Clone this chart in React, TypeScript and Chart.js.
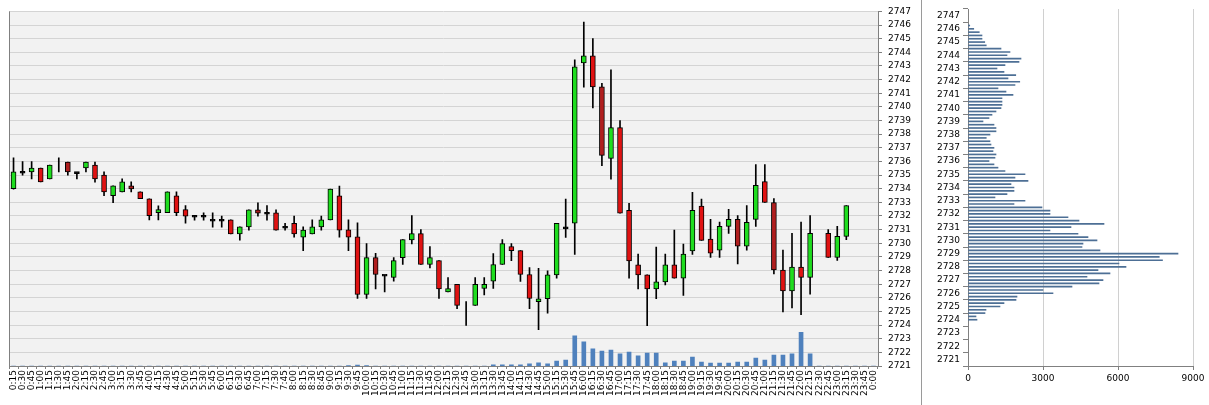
import React, { useEffect, useRef } from 'react';
import { Chart, registerables } from 'chart.js';
Chart.register(...registerables);

const timeLabels = [
  '0:15','0:30','0:45','1:00','1:15','1:30','1:45','2:00','2:15','2:30','2:45','3:00',
  '3:15','3:30','3:45','4:00','4:15','4:30','4:45','5:00','5:15','5:30','5:45','6:00',
  '6:15','6:30','6:45','7:00','7:15','7:30','7:45','8:00','8:15','8:30','8:45','9:00',
  '9:15','9:30','9:45','10:00','10:15','10:30','10:45','11:00','11:15','11:30','11:45','12:00',
  '12:15','12:30','12:45','13:00','13:15','13:30','13:45','14:00','14:15','14:30','14:45','15:00',
  '15:15','15:30','15:45','16:00','16:15','16:30','16:45','17:00','17:15','17:30','17:45','18:00',
  '18:15','18:30','18:45','19:00','19:15','19:30','19:45','20:00','20:15','20:30','20:45','21:00',
  '21:15','21:30','21:45','22:00','22:15','22:30','22:45','23:00','23:15','23:30','23:45','0:00',
];

const openPrices = [
  2734.0, 2735.2, 2735.23, 2735.52, 2734.72, null, 2735.96, 2735.18, 2735.52, 2735.74, 2735.0, 2733.48,
  2733.77, 2734.21, 2733.77, 2733.26, 2732.24, 2732.24, 2733.48, 2732.47, 2731.98, 2731.98, 2731.69, 2731.69,
  2731.72, 2730.69, 2731.2, 2732.45, 2732.2, 2732.23, 2731.18, 2731.47, 2730.45, 2730.69, 2731.2, 2731.72,
  2733.47, 2730.98, 2730.47, 2726.24, 2728.95, 2727.66, 2727.49, 2728.95, 2730.24, 2730.71, 2728.44, 2728.73,
  2726.44, 2726.98, null, 2725.44, 2726.68, 2727.22, 2728.44, 2729.76, 2729.46, 2727.71, 2725.71, 2725.93,
  2727.68, 2731.13, 2731.47, 2743.23, 2743.74, 2741.47, 2736.22, 2738.48, 2732.42, 2728.41, 2727.68, 2726.66,
  2727.17, 2728.41, 2727.44, 2729.43, 2732.72, 2730.3, 2729.5, 2731.24, 2731.75, 2729.79, 2731.75, 2734.52,
  2732.99, 2728.04, 2726.51, 2728.26, 2727.5, null, 2730.73, 2728.96, 2730.51, null, null, null,
];

const highPrices = [
  2736.27, 2735.98, 2735.98, 2735.52, 2735.74, 2736.27, 2735.96, 2735.18, 2735.96, 2735.96, 2735.23, 2734.21,
  2734.72, 2734.5, 2733.77, 2733.26, 2732.75, 2733.77, 2733.77, 2732.76, 2731.98, 2732.23, 2732.23, 2732.0,
  2731.72, 2731.2, 2732.45, 2732.96, 2732.76, 2732.45, 2731.47, 2732.0, 2731.2, 2731.72, 2732.0, 2733.98,
  2734.2, 2731.72, 2731.49, 2729.98, 2729.27, 2727.66, 2728.95, 2730.27, 2732.02, 2731.0, 2729.76, 2728.73,
  2727.49, 2726.98, 2725.73, 2727.49, 2727.49, 2729.24, 2730.27, 2729.98, 2729.46, 2728.22, 2728.17, 2727.97,
  2731.47, 2733.23, 2743.45, 2746.22, 2745.0, 2741.72, 2742.72, 2738.99, 2732.93, 2729.21, 2727.68, 2729.72,
  2729.21, 2730.96, 2729.94, 2733.74, 2733.23, 2731.75, 2731.56, 2732.48, 2732.02, 2732.77, 2735.76, 2735.76,
  2733.28, 2729.5, 2730.73, 2731.56, 2732.02, null, 2731.0, 2731.24, 2732.77, null, null, null,
];

const lowPrices = [
  2733.97, 2735.0, 2734.72, 2734.5, 2734.72, 2735.23, 2734.99, 2734.72, 2735.23, 2734.48, 2733.48, 2732.97,
  2733.77, 2733.77, 2733.26, 2731.71, 2731.71, 2732.24, 2732.02, 2731.47, 2731.69, 2731.69, 2731.18, 2731.18,
  2730.69, 2730.23, 2730.96, 2731.98, 2731.69, 2730.96, 2730.96, 2730.45, 2729.45, 2730.69, 2730.96, 2731.72,
  2730.45, 2729.45, 2725.95, 2725.95, 2726.66, 2726.44, 2727.22, 2728.44, 2729.95, 2728.44, 2728.2, 2725.95,
  2726.44, 2725.2, 2723.98, 2725.44, 2726.22, 2726.68, 2728.44, 2728.73, 2727.2, 2725.2, 2723.66, 2724.88,
  2727.44, 2730.43, 2729.19, 2741.45, 2739.92, 2735.68, 2734.69, 2732.2, 2727.44, 2726.66, 2723.96, 2725.93,
  2726.95, 2727.44, 2726.17, 2729.19, 2730.21, 2728.96, 2728.96, 2730.73, 2728.48, 2729.5, 2731.24, 2732.99,
  2727.75, 2724.96, 2725.25, 2724.76, 2726.27, null, 2728.96, 2728.74, 2730.27, null, null, null,
];

const closePrices = [
  2735.23, 2735.2, 2735.52, 2734.5, 2735.74, null, 2735.23, 2735.18, 2735.96, 2734.72, 2733.77, 2734.21,
  2734.5, 2733.99, 2733.26, 2732.02, 2732.46, 2733.77, 2732.24, 2731.98, 2731.98, 2731.98, 2731.69, 2731.69,
  2730.69, 2731.2, 2732.45, 2732.2, 2732.2, 2730.96, 2731.18, 2730.69, 2730.96, 2731.2, 2731.72, 2733.98,
  2730.96, 2730.45, 2726.24, 2728.95, 2727.71, 2727.66, 2728.73, 2730.27, 2730.71, 2728.44, 2728.95, 2726.66,
  2726.68, 2725.44, null, 2726.98, 2726.98, 2728.44, 2729.98, 2729.46, 2727.71, 2725.95, 2725.93, 2727.68,
  2731.47, 2731.13, 2742.93, 2743.74, 2741.47, 2736.44, 2738.48, 2732.2, 2728.7, 2727.68, 2726.66, 2727.17,
  2728.41, 2727.44, 2729.21, 2732.42, 2730.21, 2729.28, 2731.24, 2731.75, 2729.79, 2731.53, 2734.25, 2732.99,
  2728.04, 2726.51, 2728.26, 2727.5, 2730.73, null, 2728.96, 2730.51, 2732.77, null, null, null,
];

const volumes = [
  0, 0, 0, 0, 0, 0, 0, 0, 0, 0, 0, 0,
  0, 0, 0, 0, 0, 0, 0, 0, 0, 0, 0, 0,
  0, 0, 0, 0, 0, 0, 0, 0, 0, 0, 0, 0,
  0, 30, 100, 50, 0, 0, 0, 0, 0, 0, 0, 0,
  0, 0, 0, 0, 0, 130, 130, 130, 130, 230, 330, 230,
  500, 600, 3030, 2430, 1730, 1500, 1600, 1230, 1400, 1030, 1300, 1300,
  330, 500, 500, 900, 400, 300, 300, 300, 400, 400, 800, 600,
  1100, 1100, 1230, 3400, 1230, 0, 0, 0, 0, 0, 0, 0,
];

// candles drawn in a darker red in the reference
const darkCandles = [6, 13, 27, 40, 65, 80, 84];

const profileLevels = [
  2746.25, 2746.0, 2745.75, 2745.5, 2745.25, 2745.0, 2744.75, 2744.5, 2744.25, 2744.0,
  2743.75, 2743.5, 2743.25, 2743.0, 2742.75, 2742.5, 2742.25, 2742.0, 2741.75, 2741.5,
  2741.25, 2741.0, 2740.75, 2740.5, 2740.25, 2740.0, 2739.75, 2739.5, 2739.25, 2739.0,
  2738.75, 2738.5, 2738.25, 2738.0, 2737.75, 2737.5, 2737.25, 2737.0, 2736.75, 2736.5,
  2736.25, 2736.0, 2735.75, 2735.5, 2735.25, 2735.0, 2734.75, 2734.5, 2734.25, 2734.0,
  2733.75, 2733.5, 2733.25, 2733.0, 2732.75, 2732.5, 2732.25, 2732.0, 2731.75, 2731.5,
  2731.25, 2731.0, 2730.75, 2730.5, 2730.25, 2730.0, 2729.75, 2729.5, 2729.25, 2729.0,
  2728.75, 2728.5, 2728.25, 2728.0, 2727.75, 2727.5, 2727.25, 2727.0, 2726.75, 2726.5,
  2726.25, 2726.0, 2725.75, 2725.5, 2725.25, 2725.0, 2724.75, 2724.5, 2724.25, 2724.0,
];

const profileVolumes = [
  70, 230, 450, 560, 560, 670, 730, 1320, 1680, 1560,
  2120, 2040, 1480, 1160, 1440, 1910, 1600, 2070, 1880, 1200,
  1520, 1800, 1360, 1360, 1360, 1320, 1120, 960, 840, 600,
  1040, 1120, 1120, 880, 730, 880, 920, 1040, 1000, 1120,
  1080, 840, 1040, 1200, 1480, 2280, 1880, 2400, 1720, 1840,
  1840, 1560, 1080, 2280, 1840, 2960, 3280, 3280, 4000, 4440,
  5440, 4120, 3280, 4400, 4800, 5160, 4600, 4560, 5280, 8400,
  7650, 7780, 6040, 6320, 5200, 5680, 4760, 5400, 5240, 4160,
  3000, 3400, 1960, 1920, 1440, 1280, 720, 680, 320, 360,
];

const priceMin = 2721;
const priceMax = 2747;
const profileTicks = [0, 3000, 6000, 9000];

const GREEN = '#1fdd1f';
const RED = '#e01212';
const DARK_RED = '#b01e1e';
const FONT = { family: 'DejaVu Sans', size: 9 };
const AXIS = '#808080';

export default function App() {
  const mainRef = useRef<HTMLCanvasElement>(null);
  const profRef = useRef<HTMLCanvasElement>(null);

  useEffect(() => {
    const bodies = openPrices.map((o, i) => {
      const c = closePrices[i];
      if (o == null || c == null) return null;
      if (Math.abs(o - c) < 0.06) return [c - 0.07, c + 0.07];
      return [Math.min(o, c), Math.max(o, c)];
    });
    const bodyColors = openPrices.map((o, i) => {
      const c = closePrices[i];
      if (o == null || c == null) return 'rgba(0,0,0,0)';
      if (Math.abs(o - c) < 0.06) return '#000';
      if (c > o) return GREEN;
      return darkCandles.includes(i) ? DARK_RED : RED;
    });
    const wicks = highPrices.map((h, i) => (h == null || lowPrices[i] == null ? null : [lowPrices[i], h]));

    const bgPlugin = {
      id: 'bgPlugin',
      beforeDraw(chart: any) {
        const { ctx, chartArea: a } = chart;
        ctx.save();
        ctx.fillStyle = '#f2f2f2';
        ctx.fillRect(a.left, a.top, a.right - a.left, a.bottom - a.top);
        ctx.restore();
      },
      beforeDatasetsDraw(chart: any) {
        const { ctx, chartArea: a } = chart;
        ctx.save();
        ctx.strokeStyle = AXIS;
        ctx.lineWidth = 1;
        ctx.beginPath();
        ctx.moveTo(Math.round(a.left) + 0.5, a.top);
        ctx.lineTo(Math.round(a.left) + 0.5, a.bottom);
        ctx.stroke();
        ctx.restore();
      },
    };

    const main = new Chart(mainRef.current as HTMLCanvasElement, {
      type: 'bar',
      data: {
        labels: timeLabels,
        datasets: [
          {
            data: bodies as any,
            backgroundColor: bodyColors,
            borderColor: '#000',
            borderWidth: 1,
            borderSkipped: false,
            barThickness: 5,
            grouped: false,
            yAxisID: 'y',
          } as any,
          {
            data: wicks as any,
            backgroundColor: '#000',
            borderWidth: 0,
            barThickness: 1,
            grouped: false,
            yAxisID: 'y',
          } as any,
          {
            data: volumes,
            backgroundColor: '#4f81bd',
            borderWidth: 0,
            barThickness: 4,
            grouped: false,
            yAxisID: 'yv',
          } as any,
        ],
      },
      options: {
        animation: false,
        responsive: false,
        maintainAspectRatio: false,
        events: [],
        layout: { padding: { left: 9, top: 9, right: 0, bottom: 0 } },
        plugins: { legend: { display: false }, tooltip: { enabled: false } },
        scales: {
          x: {
            type: 'category',
            grid: { drawOnChartArea: false, drawTicks: true, tickLength: 3, color: AXIS, offset: true },
            border: { display: true, color: AXIS },
            ticks: { autoSkip: false, maxRotation: 90, minRotation: 90, padding: 1, font: FONT, color: '#000' },
            afterFit: (s: any) => { s.height = 39; },
          },
          y: {
            type: 'linear',
            position: 'right',
            min: priceMin,
            max: priceMax,
            grid: { color: '#d4d4d4', tickColor: AXIS, tickLength: 4 },
            border: { display: true, color: AXIS },
            ticks: { stepSize: 1, autoSkip: false, padding: 6, font: FONT, color: '#000', callback: (v: any) => String(v) },
            afterFit: (s: any) => { s.width = 42; },
          },
          yv: {
            type: 'linear',
            display: false,
            min: 0,
            max: 35700,
          },
        },
      } as any,
      plugins: [bgPlugin],
    });

    const prof = new Chart(profRef.current as HTMLCanvasElement, {
      type: 'bar',
      data: {
        datasets: [
          {
            data: profileLevels.map((p, i) => ({ x: profileVolumes[i], y: p })),
            backgroundColor: '#4d6f95',
            borderWidth: 0,
            barThickness: 1,
          } as any,
        ],
      },
      options: {
        indexAxis: 'y',
        animation: false,
        responsive: false,
        maintainAspectRatio: false,
        events: [],
        layout: { padding: { left: 0, top: 9, right: 16, bottom: 0 } },
        plugins: { legend: { display: false }, tooltip: { enabled: false } },
        scales: {
          x: {
            type: 'linear',
            min: profileTicks[0],
            max: profileTicks[profileTicks.length - 1],
            afterBuildTicks: (s: any) => { s.ticks = profileTicks.map((v) => ({ value: v })); },
            grid: { color: '#d0d0d0', tickColor: AXIS, tickLength: 4 },
            border: { display: true, color: AXIS },
            ticks: { padding: 3, font: FONT, color: '#000', callback: (v: any) => String(v) },
            afterFit: (s: any) => { s.height = 39; },
          },
          y: {
            type: 'linear',
            min: priceMin,
            max: priceMax,
            grid: { drawOnChartArea: false, tickLength: 5, color: AXIS },
            border: { display: true, color: AXIS },
            ticks: { stepSize: 1, autoSkip: false, padding: 3, font: FONT, color: '#000', callback: (v: any) => String(v) },
            afterFit: (s: any) => { s.width = 46; },
          },
        },
      } as any,
    });

    return () => {
      main.destroy();
      prof.destroy();
    };
  }, []);

  return (
    <div style={{ position: 'fixed', left: 0, top: 0, width: 1209, height: 405, background: '#fff', overflow: 'hidden' }}>
      <canvas ref={mainRef} width={920} height={405} style={{ position: 'absolute', left: 0, top: 0, width: 920, height: 405 }} />
      <div style={{ position: 'absolute', left: 921, top: 0, width: 1, height: 405, background: '#9a9a9a' }} />
      <canvas ref={profRef} width={287} height={405} style={{ position: 'absolute', left: 922, top: 0, width: 287, height: 405 }} />
    </div>
  );
}
